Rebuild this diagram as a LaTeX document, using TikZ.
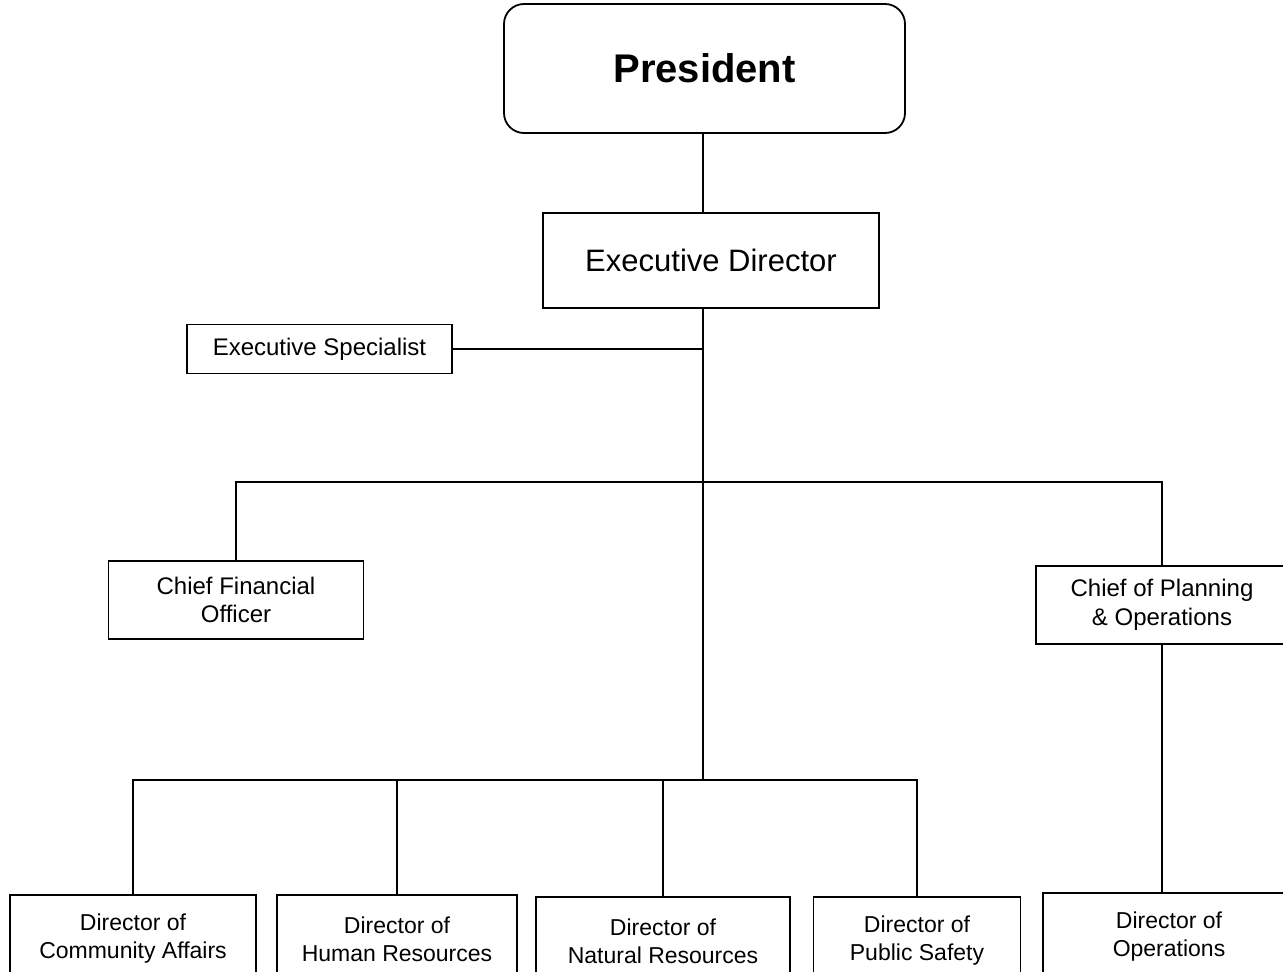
\documentclass[tikz,border=0pt]{standalone}
\usepackage{fontspec}
\setmainfont{Liberation Sans}
\tikzset{
  box/.style={draw=black, line width=1.8pt, inner sep=0pt, align=center, fill=white},
  link/.style={draw=black, line width=2pt},
  small/.style={font=\fontsize{24}{28.5}\selectfont},
  bottomtext/.style={font=\fontsize{23}{28}\selectfont}
}
\begin{document}
\begin{tikzpicture}[x=1pt,y=-1pt]
\clip (0,0) rectangle (1283,972);
\fill[white] (0,0) rectangle (1283,972);
% nodes
\node[box, rounded corners=20pt, minimum width=401pt, minimum height=129pt, font=\fontsize{40}{44}\selectfont\bfseries] (P) at (704.5,68.5) {President};
\node[box, minimum width=336pt, minimum height=95pt, font=\fontsize{31}{36}\selectfont] (ED) at (711,260.5) {Executive Director};
\node[box, small, minimum width=265pt, minimum height=49pt] (ES) at (319.5,349) {Executive Specialist};
\node[box, small, minimum width=255pt, minimum height=78pt] (CFO) at (236,600) {Chief Financial\\Officer};
\node[box, small, minimum width=252pt, minimum height=78pt] (CPO) at (1162,605) {Chief of Planning\\\& Operations};
\node[box, bottomtext, minimum width=246pt, minimum height=88pt] (DCA) at (133,939) {Director of\\Community Affairs};
\node[box, bottomtext, minimum width=240pt, minimum height=88pt] (DHR) at (397,939) {Director of\\Human Resources};
\node[box, bottomtext, minimum width=254pt, minimum height=88pt] (DNR) at (663,941) {Director of\\Natural Resources};
\node[box, bottomtext, minimum width=207pt, minimum height=88pt] (DPS) at (917,941) {Director of\\Public Safety};
\node[box, bottomtext, minimum width=252pt, minimum height=88pt] (DO) at (1169,937) {Director of\\Operations};
% junction coordinates
\coordinate (T) at (703,0);
\coordinate (J1) at (703,482);
\coordinate (J2) at (703,780);
% connectors
\draw[link] (T |- P.south) -- (T |- ED.north);
\draw[link] (T |- ED.south) -- (J2);
\draw[link] (ES.east) -- (T |- ES.east);
\draw[link] (J1) -| (CFO.north);
\draw[link] (J1) -| (CPO.north);
\draw[link] (J2) -| (DCA.north);
\draw[link] (J2) -| (DHR.north);
\draw[link] (J2) -| (DNR.north);
\draw[link] (J2) -| (DPS.north);
\draw[link] (CPO.south) -- (CPO.south |- DO.north);
\end{tikzpicture}
\end{document}
